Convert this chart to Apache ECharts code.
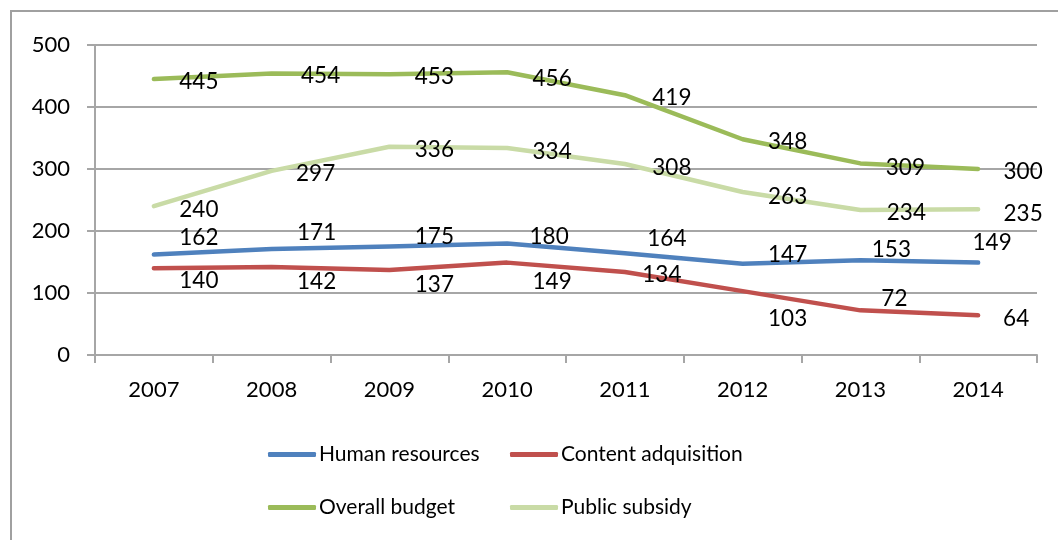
<!DOCTYPE html>
<html>
<head>
<meta charset="utf-8">
<script src="https://cdn.jsdelivr.net/npm/echarts@6/dist/echarts.min.js"></script>
<style>
html,body{margin:0;padding:0;background:#fff;}
#chart{width:1058px;height:540px;}
</style>
</head>
<body>
<div id="chart"></div>
<script>
const years = ['2007','2008','2009','2010','2011','2012','2013','2014'];
const humanResources = [162,171,175,180,164,147,153,149];
const contentAdquisition = [140,142,137,149,134,103,72,64];
const overallBudget = [445,454,453,456,419,348,309,300];
const publicSubsidy = [240,297,336,334,308,263,234,235];
const yTicks = [0,100,200,300,400,500];

// label offsets (pixels) relative to each point, as placed in the reference
const offHuman = [[45,-17],[45,-16],[45,-10],[42,-7],[42,-15],[45,-9],[31,-10],[14,-20]];
const offContent = [[45,13],[45,15],[45,15],[45,19],[37,3],[45,28],[34,-12],[38,3]];
const offOverall = [[45,3],[49,2],[45,3],[45,6],[47,3],[45,3],[45,4],[45,3]];
const offPublic = [[45,4],[44,3],[45,3],[45,4],[47,4],[45,5],[46,3],[45,4]];

const FONT = 'Lato, "Open Sans", sans-serif';

function mk(name, values, color, offs) {
  return {
    name: name,
    type: 'line',
    data: values.map((v, i) => ({
      value: v,
      label: { offset: offs[i] }
    })),
    symbol: 'circle',
    symbolSize: 1,
    showSymbol: true,
    itemStyle: { color: color },
    lineStyle: { color: color, width: 4.5, cap: 'round', join: 'round' },
    label: {
      show: true,
      position: 'inside',
      color: '#000',
      fontFamily: FONT,
      fontSize: 22.5
    },
    emphasis: { disabled: true },
    animation: false
  };
}

const legendBase = {
  orient: 'vertical',
  top: 444,
  padding: 0,
  itemGap: 32,
  itemWidth: 48,
  itemHeight: 5,
  icon: 'roundRect',
  textStyle: { color: '#000', fontFamily: FONT, fontSize: 21, padding: [0,0,0,-2] },
  selectedMode: false
};

const chart = echarts.init(document.getElementById('chart'), null, { renderer: 'canvas' });
chart.setOption({
  backgroundColor: '#fff',
  animation: false,
  graphic: [{
    type: 'rect',
    shape: { x: 11, y: 11, width: 1100, height: 600 },
    style: { fill: 'none', stroke: '#a0a0a0', lineWidth: 2 },
    silent: true
  }],
  grid: { left: 95, right: 21, top: 45, bottom: 185 },
  xAxis: {
    type: 'category',
    data: years,
    boundaryGap: true,
    axisLine: { show: true, lineStyle: { color: '#a6a6a6', width: 2 } },
    axisTick: { show: true, length: 8, alignWithLabel: false, lineStyle: { color: '#a6a6a6', width: 2 } },
    axisLabel: { color: '#000', fontFamily: FONT, fontSize: 22, margin: 24 },
    splitLine: { show: false }
  },
  yAxis: {
    type: 'value',
    min: yTicks[0],
    max: yTicks[yTicks.length - 1],
    interval: yTicks[1] - yTicks[0],
    axisLine: { show: true, lineStyle: { color: '#a6a6a6', width: 2 } },
    axisTick: { show: true, length: 8, lineStyle: { color: '#a6a6a6', width: 2 } },
    axisLabel: { color: '#000', fontFamily: FONT, fontSize: 22, margin: 25 },
    splitLine: { show: true, lineStyle: { color: '#a6a6a6', width: 2 } }
  },
  legend: [
    Object.assign({}, legendBase, { left: 268, data: ['Human resources', 'Overall budget'] }),
    Object.assign({}, legendBase, { left: 510, data: ['Content adquisition', 'Public subsidy'] })
  ],
  series: [
    mk('Public subsidy', publicSubsidy, '#c9dba6', offPublic),
    mk('Overall budget', overallBudget, '#9bbb59', offOverall),
    mk('Content adquisition', contentAdquisition, '#c0504d', offContent),
    mk('Human resources', humanResources, '#4f81bd', offHuman)
  ]
});
</script>
</body>
</html>
